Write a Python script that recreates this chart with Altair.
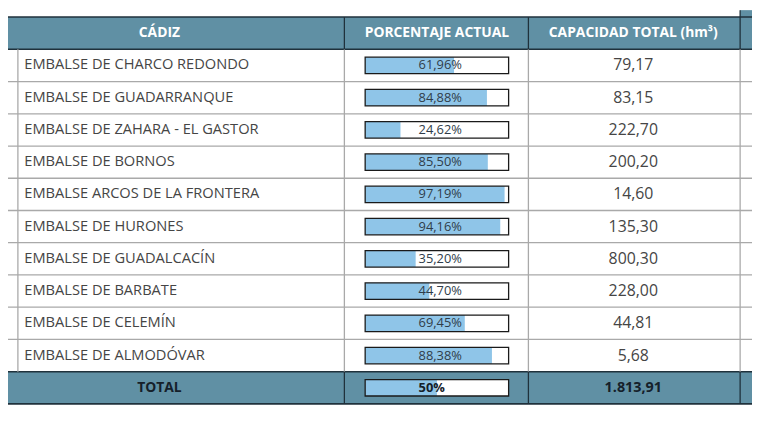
import altair as alt
import pandas as pd

# ---- data -------------------------------------------------------------
names = [
    "EMBALSE DE CHARCO REDONDO",
    "EMBALSE DE GUADARRANQUE",
    "EMBALSE DE ZAHARA - EL GASTOR",
    "EMBALSE DE BORNOS",
    "EMBALSE ARCOS DE LA FRONTERA",
    "EMBALSE DE HURONES",
    "EMBALSE DE GUADALCACÍN",
    "EMBALSE DE BARBATE",
    "EMBALSE DE CELEMÍN",
    "EMBALSE DE ALMODÓVAR",
]
pcts = [61.96, 84.88, 24.62, 85.50, 97.19, 94.16, 35.20, 44.70, 69.45, 88.38]
caps = [79.17, 83.15, 222.70, 200.20, 14.60, 135.30, 800.30, 228.00, 44.81, 5.68]
total_pct = 50
total_cap = 1813.91
headers = ["CÁDIZ", "PORCENTAJE ACTUAL", "CAPACIDAD TOTAL (hm³)"]
total_label = "TOTAL"


def es_num(v):
    s = f"{v:,.2f}"
    return s.replace(",", "X").replace(".", ",").replace("X", ".")


# ---- style / layout ---------------------------------------------------
HEAD = "#6090a4"
DARK = "#1f313b"
LIGHT = "#a9a9a9"
BAR = "#8fc5e8"
FONT = "Open Sans"
W, H = 752, 404
YS = alt.Scale(domain=[0, 12], range=[7, 398])
XS = alt.Scale(domain=[0, 100], range=[361, 506])
COL_EDGES = [10, 340, 526, 740]
X_NAME, X_HEAD0, X_HEAD1, X_PCT, X_CAP = 16.5, 153, 433.5, 415, 632

rows = pd.DataFrame({
    "name": names,
    "pct": pcts,
    "cap": caps,
})
rows["row"] = range(1, len(rows) + 1)
rows["top"] = rows["row"]
rows["bot"] = rows["row"] + 1
rows["mid"] = rows["row"] + 0.5
rows["b0"] = rows["row"] + 0.245
rows["b1"] = rows["row"] + 0.755
rows["pct_label"] = [f"{p:.2f}".replace(".", ",") + "%" for p in pcts]
rows["cap_label"] = [es_num(c) for c in caps]

tot = pd.DataFrame({
    "name": [total_label], "pct": [total_pct], "cap": [total_cap],
    "row": [11],
})
tot["top"] = tot["row"]
tot["bot"] = tot["row"] + 1
tot["mid"] = tot["row"] + 0.5
tot["b0"] = tot["row"] + 0.245
tot["b1"] = tot["row"] + 0.755
tot["pct_label"] = [f"{total_pct}%"]
tot["cap_label"] = [es_num(total_cap)]

hdr = pd.DataFrame({"top": [0], "bot": [1], "mid": [0.5]})
bands = pd.DataFrame({"top": [0, 11], "bot": [1, 12]})
hlines_light = pd.DataFrame({"y": list(range(2, 11))})
hlines_dark = pd.DataFrame({"y": [0, 1, 11, 12]})
vseg_light = pd.DataFrame({"top": [1], "bot": [11]})
vseg_dark = pd.DataFrame({"top": [0, 11], "bot": [1, 12]})

layers = []

# header / total bands
layers.append(
    alt.Chart(bands).mark_rect(color=HEAD).encode(
        x=alt.value(0), x2=alt.value(W),
        y=alt.Y("top:Q", scale=YS, axis=None), y2="bot:Q")
)
# top-right piece of next header
layers.append(
    alt.Chart(hdr).mark_rect(color=HEAD).encode(
        x=alt.value(COL_EDGES[3]), x2=alt.value(W),
        y=alt.Y("top:Q", scale=YS, axis=None), y2=alt.value(0))
)

# horizontal lines
layers.append(
    alt.Chart(hlines_light).mark_rule(color=LIGHT, strokeWidth=1.3).encode(
        x=alt.value(0), x2=alt.value(W), y=alt.Y("y:Q", scale=YS, axis=None))
)
layers.append(
    alt.Chart(hlines_dark).mark_rule(color=DARK, strokeWidth=1.6).encode(
        x=alt.value(0), x2=alt.value(W), y=alt.Y("y:Q", scale=YS, axis=None))
)

# vertical lines
for i, xe in enumerate(COL_EDGES):
    layers.append(
        alt.Chart(vseg_light).mark_rule(color=LIGHT, strokeWidth=1.3).encode(
            x=alt.value(xe), y=alt.Y("top:Q", scale=YS, axis=None), y2="bot:Q")
    )
    if i > 0:
        layers.append(
            alt.Chart(vseg_dark).mark_rule(color=DARK, strokeWidth=1.3).encode(
                x=alt.value(xe), y=alt.Y("top:Q", scale=YS, axis=None), y2="bot:Q")
        )
layers.append(
    alt.Chart(hdr).mark_rule(color=DARK, strokeWidth=1.3).encode(
        x=alt.value(COL_EDGES[3]), y=alt.Y("top:Q", scale=YS, axis=None),
        y2=alt.value(0))
)

allrows = pd.concat([rows, tot], ignore_index=True)

# progress boxes
layers.append(
    alt.Chart(allrows).mark_rect(color="white").encode(
        x=alt.X(datum=0, scale=XS, axis=None), x2=alt.datum(100),
        y=alt.Y("b0:Q", scale=YS, axis=None), y2="b1:Q")
)
layers.append(
    alt.Chart(allrows).mark_rect(color=BAR).encode(
        x=alt.X("pct:Q", scale=XS, axis=None), x2=alt.datum(0),
        y=alt.Y("b0:Q", scale=YS, axis=None), y2="b1:Q")
)
layers.append(
    alt.Chart(allrows).mark_rect(fillOpacity=0, stroke="#1a1a1a", strokeWidth=1.3).encode(
        x=alt.X(datum=0, scale=XS, axis=None), x2=alt.datum(100),
        y=alt.Y("b0:Q", scale=YS, axis=None), y2="b1:Q")
)

# body text
layers.append(
    alt.Chart(rows).mark_text(align="left", baseline="middle", font=FONT,
                              fontSize=14.8, color="#454545").encode(
        x=alt.value(X_NAME), y=alt.Y("mid:Q", scale=YS, axis=None), text="name:N")
)
layers.append(
    alt.Chart(rows).mark_text(align="left", baseline="middle", font=FONT,
                              fontSize=13, color="#2f3d4a").encode(
        x=alt.value(X_PCT), y=alt.Y("mid:Q", scale=YS, axis=None), text="pct_label:N")
)
layers.append(
    alt.Chart(rows).mark_text(align="center", baseline="middle", font=FONT,
                              fontSize=16, color="#454545").encode(
        x=alt.value(X_CAP), y=alt.Y("mid:Q", scale=YS, axis=None), text="cap_label:N")
)

# total row text
layers.append(
    alt.Chart(tot).mark_text(align="center", baseline="middle", font=FONT,
                             fontSize=14, fontWeight="bold", color="#15202a").encode(
        x=alt.value(X_HEAD0), y=alt.Y("mid:Q", scale=YS, axis=None), text="name:N")
)
layers.append(
    alt.Chart(tot).mark_text(align="left", baseline="middle", font=FONT,
                             fontSize=13, fontWeight="bold", color="#15202a").encode(
        x=alt.value(X_PCT), y=alt.Y("mid:Q", scale=YS, axis=None), text="pct_label:N")
)
layers.append(
    alt.Chart(tot).mark_text(align="center", baseline="middle", font=FONT,
                             fontSize=14.5, fontWeight="bold", color="#15202a").encode(
        x=alt.value(X_CAP), y=alt.Y("mid:Q", scale=YS, axis=None), text="cap_label:N")
)

# header text
for label, xh in zip(headers, [X_HEAD0, X_HEAD1, X_CAP]):
    hd = hdr.assign(label=label)
    layers.append(
        alt.Chart(hd).mark_text(align="center", baseline="middle", font=FONT,
                                fontSize=14, fontWeight="bold", color="white").encode(
            x=alt.value(xh), y=alt.Y("mid:Q", scale=YS, axis=None), text="label:N")
    )

chart = alt.layer(*layers).properties(
    width=W, height=H, autosize="none", padding=0, background="white"
).configure_view(stroke=None)

chart.save("out.html", embed_options={"renderer": "svg", "actions": False})
